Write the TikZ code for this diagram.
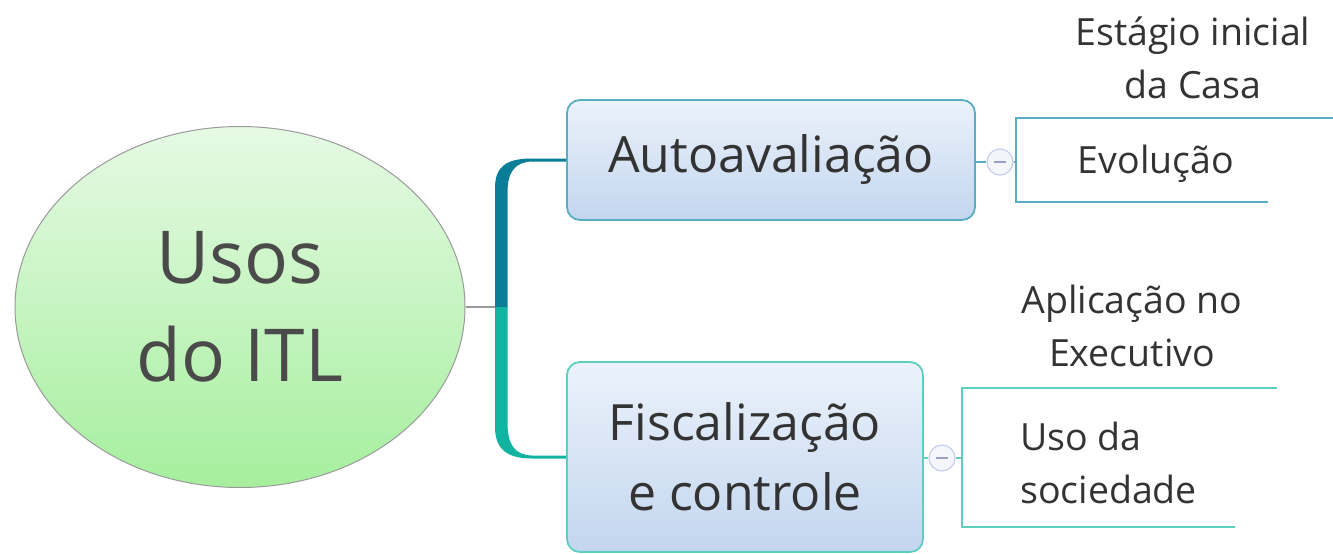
\documentclass[tikz,border=0pt]{standalone}
\usepackage{fontspec}
\setmainfont{Open Sans}
\usetikzlibrary{shapes.geometric}
\definecolor{rootTop}{HTML}{E6F9E4}
\definecolor{rootBot}{HTML}{A6EF9E}
\definecolor{rootLine}{HTML}{9A9A9A}
\definecolor{txtRoot}{HTML}{4A4A4A}
\definecolor{txtDark}{HTML}{333333}
\definecolor{boxTop}{HTML}{EBF2FB}
\definecolor{boxBot}{HTML}{C3D6EF}
\definecolor{blueLine}{HTML}{5AAEC4}
\definecolor{greenLine}{HTML}{5CCFC0}
\definecolor{branchBlue}{HTML}{0A7E97}
\definecolor{branchGreen}{HTML}{12B3A1}
\definecolor{circLine}{HTML}{C6CCEE}
\definecolor{circFill}{HTML}{F5F6FC}
\definecolor{minusCol}{HTML}{9AA0C8}
\tikzset{
  topicbox/.style={rectangle, rounded corners=13pt, line width=1.8pt,
    top color=boxTop, bottom color=boxBot, inner sep=0pt, align=center,
    text=txtDark, font=\fontsize{50}{70}\selectfont},
  collapse/.style={circle, draw=circLine, line width=1.2pt, fill=circFill,
    minimum size=26pt, inner sep=0pt,
    path picture={\draw[minusCol, line width=1.6pt]
      ([xshift=-6pt]path picture bounding box.center) -- ([xshift=6pt]path picture bounding box.center);}},
  leaf/.style={text=txtDark, inner sep=0pt, font=\fontsize{37.5}{53}\selectfont}
}
\begin{document}
\begin{tikzpicture}[x=1pt,y=-1pt]
\useasboundingbox (0,0) rectangle (1333,554);

% root
\node[ellipse, draw=rootLine, line width=1pt, top color=rootTop, bottom color=rootBot,
  minimum width=450pt, minimum height=361pt, inner sep=0pt, align=center,
  text=txtRoot, font=\fontsize{73}{98}\selectfont] (root) at (240,307) {Usos\\do ITL};

% main topics
\node[topicbox, draw=blueLine, minimum width=408pt, minimum height=120pt] (auto) at (771,160) {Autoavalia\c{c}\~ao};
\node[topicbox, draw=greenLine, minimum width=356pt, minimum height=190pt] (fisc) at (745,457) {Fiscaliza\c{c}\~ao\\e controle};

% junction
\coordinate (j) at (501,307);
\draw[rootLine, line width=1.2pt] (root.east) -- (root.east -| j);

% branch shapes
\fill[branchBlue] (495,307) -- (495,188) .. controls (495,166) and (507,158.5) .. (532,158.5)
  -- ([yshift=1.5pt]auto.west) -- ([yshift=-1.5pt]auto.west) -- (532,161.5)
  .. controls (515,162) and (507.5,172) .. (507.5,192) -- (507.5,307) -- cycle;
\fill[branchGreen] (495,307) -- (495,427) .. controls (495,449) and (507,458.5) .. (532,458.5)
  -- ([yshift=-1.5pt]fisc.west) -- ([yshift=1.5pt]fisc.west) -- (532,455.5)
  .. controls (515,455) and (507.5,445) .. (507.5,423) -- (507.5,307) -- cycle;

% collapse markers
\node[collapse] (c1) at (1000,162) {};
\node[collapse] (c2) at (942,458) {};
\draw[blueLine, line width=1.5pt] (auto.east |- c1) -- (c1.west);
\draw[greenLine, line width=1.5pt] (fisc.east |- c2) -- (c2.west);

% bracket 1
\coordinate (b1t) at (1016,118);
\coordinate (b1b) at (1016,202);
\coordinate (b1tr) at (1333,118);
\coordinate (b1br) at (1268,202);
\draw[blueLine, line width=2pt] (b1tr) -- (b1t) -- (b1b) -- (b1br);
\draw[blueLine, line width=1.5pt] (c1.east) -- (c1.east -| b1t);

% bracket 2
\coordinate (b2t) at (962,388);
\coordinate (b2b) at (962,527);
\coordinate (b2tr) at (1277,388);
\coordinate (b2br) at (1235,527);
\draw[greenLine, line width=2pt] (b2tr) -- (b2t) -- (b2b) -- (b2br);
\draw[greenLine, line width=1.5pt] (c2.east) -- (c2.east -| b2t);

% leaves
\node[leaf, align=center] (l1) at (1193,58) {Est\'agio inicial\\da Casa};
\node[leaf] (l2) at (1156,164) {Evolu\c{c}\~ao};
\node[leaf, align=center] (l3) at (1132,326) {Aplica\c{c}\~ao no\\Executivo};
\node[leaf, align=left, anchor=west] (l4) at (1020,463) {Uso da\\sociedade};
\end{tikzpicture}
\end{document}
